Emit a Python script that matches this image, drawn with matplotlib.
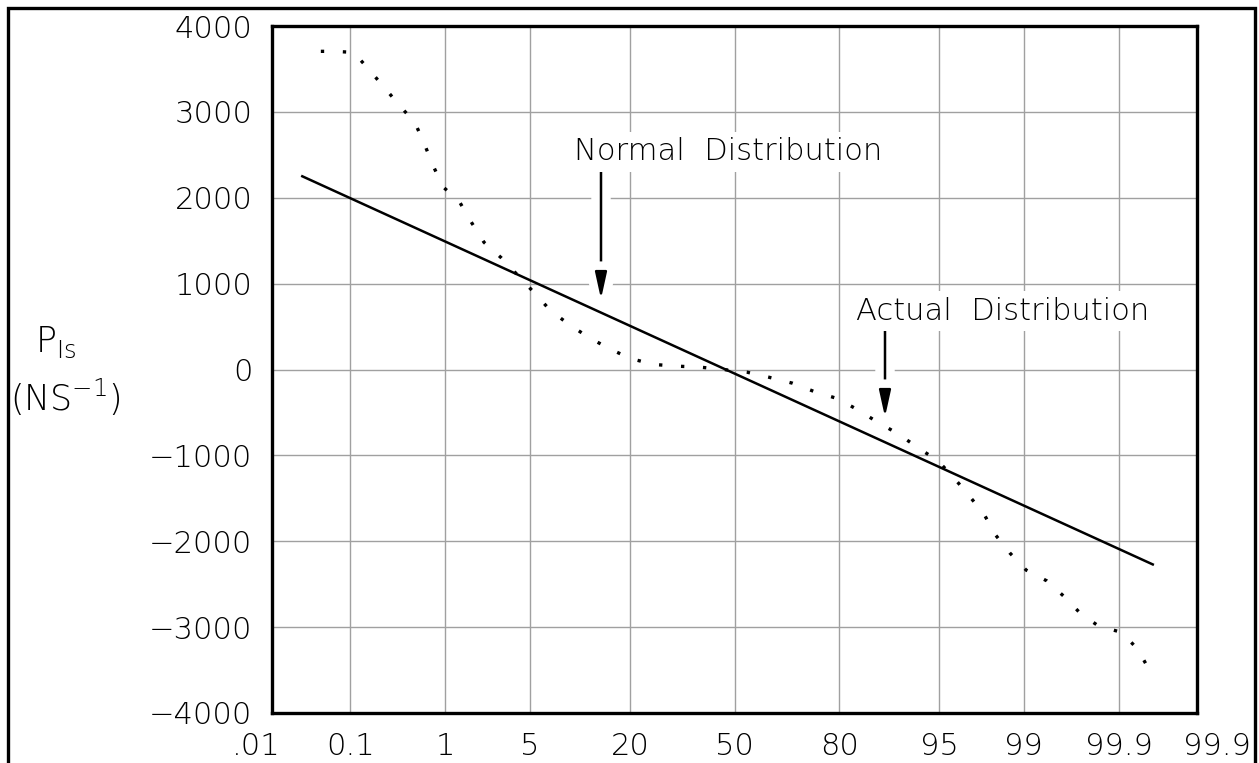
import numpy as np
import matplotlib
matplotlib.use('Agg')
import matplotlib.pyplot as plt
import matplotlib.patheffects as pe
from matplotlib.patches import Rectangle
from matplotlib.transforms import ScaledTranslation
from statistics import NormalDist

# fuente fina tipo CAD
plt.rcParams['font.family'] = ['DejaVu Sans']
plt.rcParams['font.weight'] = 'light'
plt.rcParams['mathtext.fontset'] = 'custom'
plt.rcParams['mathtext.rm'] = 'DejaVu Sans:light'
plt.rcParams['axes.unicode_minus'] = True

# probabilidad acumulada (%) y valores
tick_pos = [0.01, 0.1, 1, 5, 20, 50, 80, 95, 99, 99.9, 99.99]
tick_labels = ['.01', '0.1', '1', '5', '20', '50', '80', '95', '99', '99.9', '99.9']
y_ticks = [-4000, -3000, -2000, -1000, 0, 1000, 2000, 3000, 4000]

normal_p = [0.0255, 99.9615]
normal_v = [2250, -2270]

actual_p = [0.044, 0.063, 0.11, 0.163, 0.24, 0.35, 0.51, 0.63, 0.77, 0.95,
            1.36, 1.73, 2.2, 3.05, 5.3, 6.9, 9.1, 12.1, 15.7, 20.1,
            25.7, 32.2, 39.2, 46.4, 54.1, 60.9, 68.0, 74.0, 79.7, 83.9,
            87.5, 90.6, 93.0, 94.9, 96.1, 97.0, 97.75, 98.2, 98.66, 99.05,
            99.40, 99.60, 99.73, 99.83, 99.907, 99.940, 99.957, 99.959]
actual_v = [3705, 3705, 3693, 3497, 3291, 3080, 2872, 2630, 2372, 2130,
            1946, 1708, 1481, 1298, 903, 692, 528, 372, 243, 129,
            59, 39, 27, 0, -32, -90, -160, -258, -340, -469,
            -613, -750, -911, -1063, -1258, -1460, -1680, -1923, -2137, -2336,
            -2462, -2646, -2841, -2989, -3060, -3251, -3490, -3596]

nd = NormalDist()


def prob_fwd(p):
    p = np.clip(np.asarray(p, dtype=float), 1e-7, 100 - 1e-7)
    return np.vectorize(lambda v: nd.inv_cdf(v / 100.0), otypes=[float])(p)


def prob_inv(z):
    z = np.asarray(z, dtype=float)
    return np.vectorize(lambda v: nd.cdf(v) * 100.0, otypes=[float])(z)


fig = plt.figure(figsize=(12.59, 7.63), dpi=100)
ax = fig.add_axes([272 / 1259, 1 - 713 / 763, (1197 - 272) / 1259, (713 - 26) / 763])
ax.set_xscale('function', functions=(prob_fwd, prob_inv))
ax.set_xlim(0.01, 99.99)
ax.set_ylim(-4000, 4000)

ax.set_xticks(tick_pos)
ax.set_xticklabels(tick_labels)
ax.set_yticks(y_ticks)
ax.set_yticklabels([str(v).replace('-', '\u2212') for v in y_ticks])
ax.xaxis.set_minor_locator(matplotlib.ticker.NullLocator())
ax.tick_params(axis='both', length=0, labelsize=22)
ax.tick_params(axis='x', pad=14)
ax.tick_params(axis='y', pad=14)

# desplazar etiquetas de los extremos
lbls = ax.get_xticklabels()
lbls[0].set_transform(lbls[0].get_transform() + ScaledTranslation(-16 / 100, 0, fig.dpi_scale_trans))
lbls[-1].set_transform(lbls[-1].get_transform() + ScaledTranslation(20 / 100, 0, fig.dpi_scale_trans))

ax.grid(True, color='#a0a0a0', linewidth=1.0, zorder=0)
ax.set_axisbelow(True)
for s in ax.spines.values():
    s.set_linewidth(2.4)
    s.set_color('black')
    s.set_zorder(5)

ax.plot(normal_p, normal_v, color='black', linewidth=1.8, zorder=3)
ax.plot(actual_p, actual_v, color='black', linewidth=2.4,
        linestyle=(0, (1, 5.6)), zorder=3)

halo = [pe.withStroke(linewidth=14, foreground='white')]
ax.annotate('', xy=(601, 763 - 302), xycoords='figure pixels',
            xytext=(601, 763 - 168), textcoords='figure pixels',
            arrowprops=dict(arrowstyle='-|>,head_length=1.6,head_width=0.35',
                            color='black', lw=1.8, path_effects=halo),
            zorder=2)
ax.annotate('', xy=(885, 763 - 420), xycoords='figure pixels',
            xytext=(885, 763 - 328), textcoords='figure pixels',
            arrowprops=dict(arrowstyle='-|>,head_length=1.6,head_width=0.35',
                            color='black', lw=1.8, path_effects=halo),
            zorder=2)

fig.text(728 / 1259, 1 - 152 / 763, 'Normal  Distribution', fontsize=22,
         ha='center', va='center',
         bbox=dict(facecolor='white', edgecolor='none', pad=4), zorder=2)
fig.text(1003 / 1259, 1 - 311 / 763, 'Actual  Distribution', fontsize=22,
         ha='center', va='center',
         bbox=dict(facecolor='white', edgecolor='none', pad=4), zorder=2)

# etiqueta del eje y
fig.text(56 / 1259, 1 - 342 / 763, r'$\mathregular{P_{Is}}$', fontsize=25,
         ha='center', va='center')
fig.text(65 / 1259, 1 - 397 / 763, r'$\mathregular{(NS^{-1})}$', fontsize=25,
         ha='center', va='center')

# marco exterior
fig.patches.append(Rectangle((8 / 1259, -0.1), (1255 - 8) / 1259, 0.1 + 1 - 8 / 763,
                             transform=fig.transFigure, fill=False,
                             edgecolor='black', linewidth=2.4))

fig.savefig('out.png', dpi=100)
